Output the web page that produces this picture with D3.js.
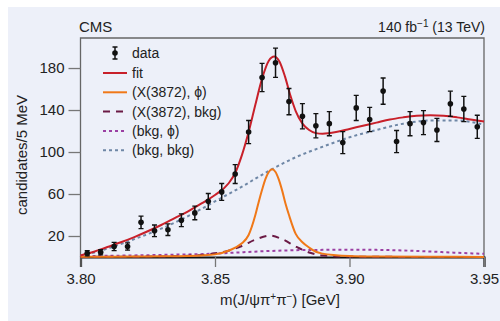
<!DOCTYPE html>
<html>
<head>
<meta charset="utf-8">
<script src="https://cdn.jsdelivr.net/npm/d3@7"></script>
<style>
  html, body { margin: 0; padding: 0; background: #fff; }
  svg { display: block; }
  text { font-family: "Liberation Sans Narrow", "Liberation Sans", Arial, sans-serif; fill: #222; }
</style>
</head>
<body>
<svg width="500" height="321"></svg>
<script>
// data points, 5 MeV bins
var massBins = [3.8025, 3.8075, 3.8125, 3.8175, 3.8225, 3.8275, 3.8325, 3.8375, 3.8425, 3.8475,
                3.8525, 3.8575, 3.8625, 3.8675, 3.8725, 3.8775, 3.8825, 3.8875, 3.8925, 3.8975,
                3.9025, 3.9075, 3.9125, 3.9175, 3.9225, 3.9275, 3.9325, 3.9375, 3.9425, 3.9475]
var counts = [3.5, 4.5, 10, 10, 33, 25, 26, 35, 42, 53,
              62, 79, 119, 171, 185, 148, 134, 125, 127, 109,
              142, 131, 158, 110, 127, 128, 121, 146, 141, 124]
var errors = [2.5, 2.5, 4, 3.5, 6, 5.5, 5.5, 6, 6.5, 7.5,
              8, 9, 11, 13.5, 14, 12.5, 12, 11.5, 11.5, 10.5,
              12, 11.5, 12.5, 10.5, 11.5, 11.5, 11, 12, 12, 11]

// curves
var fitX = [3.800, 3.805, 3.810, 3.815, 3.820, 3.825, 3.830, 3.835, 3.840, 3.845, 3.850, 3.855, 3.8575,
            3.860, 3.8625, 3.865, 3.8675, 3.870, 3.872, 3.874, 3.876, 3.878, 3.880, 3.8825, 3.885,
            3.8875, 3.890, 3.895, 3.900, 3.905, 3.910, 3.915, 3.920, 3.925, 3.930, 3.935, 3.940, 3.945, 3.950]
var fitY = [1.5, 5, 9.5, 14, 19, 24.5, 30.5, 37, 43.5, 51, 59, 70, 80,
            97, 119, 145, 170, 187, 191, 186, 172, 154, 139, 127, 121,
            118, 117.5, 119, 122, 125, 128, 131, 133, 134.5, 135, 134.5, 133, 131, 129]

var xphiX = [3.800, 3.820, 3.830, 3.840, 3.845, 3.850, 3.855, 3.8575, 3.860, 3.8625, 3.865, 3.8662,
             3.8675, 3.8687, 3.870, 3.8712, 3.8725, 3.8737, 3.875, 3.8762, 3.8775, 3.880, 3.8825, 3.885,
             3.8875, 3.890, 3.895, 3.900, 3.910, 3.930, 3.950]
var xphiY = [0.2, 0.4, 0.6, 1.0, 1.5, 2.5, 6, 9, 13, 21, 40, 52,
             64, 74, 81, 83.5, 81, 74, 63, 51, 40, 22, 14, 9,
             5, 3.2, 1.7, 1.0, 0.5, 0.2, 0.1]

var xbkgX = [3.800, 3.830, 3.840, 3.845, 3.850, 3.855, 3.860, 3.865, 3.8705, 3.875, 3.880, 3.885,
             3.890, 3.900, 3.920, 3.950]
var xbkgY = [0.1, 0.5, 1.2, 2, 3.5, 6, 10.5, 16.5, 20.3, 17, 10, 4.3,
             1.5, 0.4, 0.1, 0.05]

var bkgphiX = [3.80, 3.82, 3.83, 3.85, 3.86, 3.87, 3.88, 3.89, 3.90, 3.91, 3.92, 3.93, 3.94, 3.95]
var bkgphiY = [0.8, 1.5, 2, 3.2, 4.5, 5.7, 6.5, 6.8, 7, 6.8, 6.2, 5.2, 4, 3]

var bkgbkgX = [3.80, 3.81, 3.82, 3.83, 3.84, 3.85, 3.86, 3.87, 3.88, 3.89, 3.90, 3.91, 3.92, 3.93, 3.94, 3.95]
var bkgbkgY = [1, 8, 17, 27, 39, 53, 67, 82, 95, 105, 114, 121, 127, 130, 130, 126]

var xTicks = [3.80, 3.85, 3.90, 3.95]
var yTicks = [20, 60, 100, 140, 180]

var svg = d3.select('svg')

// page background (white strip on top and left)
svg.append('rect').attr('x', 8).attr('y', 7).attr('width', 492).attr('height', 314).attr('fill', '#edf0f9')

var x = d3.scaleLinear().domain([3.80, 3.95]).range([80.5, 484])
var y = d3.scaleLinear().domain([0, 208.6]).range([257, 38])

// frame
svg.append('path')
    .attr('d', 'M' + x(3.80) + ',' + y(0) + 'V' + y(208.6) + 'H' + x(3.95) + 'V' + y(0))
    .attr('fill', 'none').attr('stroke', '#666').attr('stroke-width', 1.3)

var xAxis = svg.append('g')
    .attr('transform', 'translate(0,' + y(0) + ')')
    .call(d3.axisBottom(x).tickValues(xTicks).tickFormat(d3.format('.2f')).tickSize(10).tickPadding(6))
var yAxis = svg.append('g')
    .attr('transform', 'translate(' + x(3.80) + ',0)')
    .call(d3.axisLeft(y).tickValues(yTicks).tickSize(12).tickPadding(4))

xAxis.select('.domain').attr('stroke', '#111').attr('stroke-width', 2.2)
yAxis.select('.domain').remove()
svg.selectAll('.tick line').attr('stroke', '#777').attr('stroke-width', 1.3)
svg.selectAll('.tick text').style('font-size', '15px').attr('fill', '#222')

// curves
function drawCurve(xs, ys, color, width, dash) {
    var pts = xs.map(function (d, i) { return [d, ys[i]] })
    svg.append('path')
        .datum(pts)
        .attr('d', d3.line().x(function (d) { return x(d[0]) }).y(function (d) { return y(d[1]) }).curve(d3.curveMonotoneX))
        .attr('fill', 'none')
        .attr('stroke', color)
        .attr('stroke-width', width)
        .attr('stroke-dasharray', dash)
}

drawCurve(bkgbkgX, bkgbkgY, '#6f87a6', 2, '3,3')
drawCurve(bkgphiX, bkgphiY, '#9b3fa3', 2, '3,3')
drawCurve(xbkgX, xbkgY, '#6b1a45', 2, '7,6')
drawCurve(xphiX, xphiY, '#f07818', 2, null)
drawCurve(fitX, fitY, '#c8202a', 2, null)

// data with error bars
var pts = svg.append('g')
    .selectAll('g')
    .data(massBins)
    .enter()
    .append('g')

pts.append('line')
    .attr('x1', function (d) { return x(d) })
    .attr('x2', function (d) { return x(d) })
    .attr('y1', function (d, i) { return y(counts[i] - errors[i]) })
    .attr('y2', function (d, i) { return y(counts[i] + errors[i]) })
    .attr('stroke', '#111').attr('stroke-width', 1.5)
pts.append('path')
    .attr('d', function (d, i) {
        var cx = x(d)
        return 'M' + (cx - 2.5) + ',' + y(counts[i] - errors[i]) + 'h5' +
               'M' + (cx - 2.5) + ',' + y(counts[i] + errors[i]) + 'h5'
    })
    .attr('stroke', '#111').attr('stroke-width', 1.3)
pts.append('circle')
    .attr('cx', function (d) { return x(d) })
    .attr('cy', function (d, i) { return y(counts[i]) })
    .attr('r', 2.8)
    .attr('fill', '#111')

// legend
var legendItems = [
    { label: 'fit', color: '#c8202a', dash: null },
    { label: '(X(3872), \u03d5)', color: '#f07818', dash: null },
    { label: '(X(3872), bkg)', color: '#6b1a45', dash: '7,6' },
    { label: '(bkg, \u03d5)', color: '#9b3fa3', dash: '3,3' },
    { label: '(bkg, bkg)', color: '#6f87a6', dash: '3,3' }
]
var lg = svg.append('g')
lg.append('line').attr('x1', 115).attr('x2', 115).attr('y1', 47).attr('y2', 59).attr('stroke', '#111').attr('stroke-width', 1.5)
lg.append('path').attr('d', 'M112.5,47h5M112.5,59h5').attr('stroke', '#111').attr('stroke-width', 1.3)
lg.append('circle').attr('cx', 115).attr('cy', 53).attr('r', 2.8).attr('fill', '#111')
lg.append('text').attr('x', 132).attr('y', 58).style('font-size', '14px').text('data')

legendItems.forEach(function (d, i) {
    var ly = 73 + i * 19.3
    lg.append('line').attr('x1', 103).attr('x2', 127).attr('y1', ly).attr('y2', ly)
        .attr('stroke', d.color).attr('stroke-width', 2).attr('stroke-dasharray', d.dash)
    lg.append('text').attr('x', 132).attr('y', ly + 5).style('font-size', '14px').text(d.label)
})

// titles
svg.append('text').attr('x', 79).attr('y', 32).style('font-size', '15px').text('CMS')
var lumi = svg.append('text').attr('x', 485).attr('y', 32).attr('text-anchor', 'end').style('font-size', '14px')
lumi.append('tspan').text('140 fb')
lumi.append('tspan').attr('dy', -5).style('font-size', '10px').text('\u22121')
lumi.append('tspan').attr('dy', 5).text(' (13 TeV)')

var xl = svg.append('text').attr('x', 280).attr('y', 305).attr('text-anchor', 'middle').style('font-size', '15px')
xl.append('tspan').text('m(J/\u03c8\u03c0')
xl.append('tspan').attr('dy', -5).style('font-size', '10px').text('+')
xl.append('tspan').attr('dy', 5).text('\u03c0')
xl.append('tspan').attr('dy', -5).style('font-size', '10px').text('\u2212')
xl.append('tspan').attr('dy', 5).text(') [GeV]')

svg.append('text')
    .attr('transform', 'translate(27,155) rotate(-90)')
    .attr('text-anchor', 'middle')
    .style('font-size', '15px')
    .text('candidates/5 MeV')
</script>
</body>
</html>
